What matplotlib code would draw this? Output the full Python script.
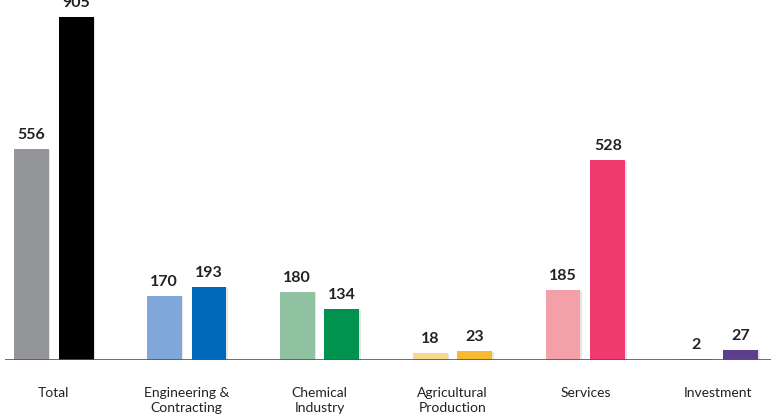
import numpy as np
import matplotlib.pyplot as plt
import matplotlib.patheffects as pe

# Sector values, earlier period vs later period
categories = ["Total", "Engineering &\nContracting", "Chemical\nIndustry",
              "Agricultural\nProduction", "Services", "Investment"]
earlier = [556, 170, 180, 18, 185, 2]
later = [905, 193, 134, 23, 528, 27]

light_colors = ["#939598", "#7fa7d9", "#90c1a0", "#f8d88f", "#f4a0a8", "#a59bc5"]
dark_colors = ["#000000", "#0068b8", "#00934f", "#f6ba35", "#ee3a6d", "#5b3f8e"]

plt.rcParams['font.family'] = ['Lato', 'DejaVu Sans']

fig = plt.figure(figsize=(7.71, 4.17), dpi=100)
ax = fig.add_axes([5 / 771, 57 / 417, 766 / 771, 360 / 417])

x = np.arange(len(categories))
width = 0.263
offset = 0.169

shadow = [pe.SimplePatchShadow(offset=(1, -0.5), shadow_rgbFace="#000000", alpha=0.10), pe.Normal()]

b1 = ax.bar(x - offset, earlier, width, color=light_colors, zorder=2)
b2 = ax.bar(x + offset, later, width, color=dark_colors, zorder=2)
for bars in (b1, b2):
    for rect in bars:
        rect.set_path_effects(shadow)

for xs, vals in ((x - offset, earlier), (x + offset, later)):
    for xi, v in zip(xs, vals):
        ax.annotate(str(v), (xi, v), xytext=(0, 5), textcoords="offset points",
                    ha="center", va="bottom", fontsize=11.5, fontweight="bold",
                    color="#222222", clip_on=False)

ax.set_xlim(-0.365, 5.395)
ax.set_ylim(0, 949.8)
ax.axhline(0, color="#555555", lw=1.2, zorder=3)

for xi, label in zip(x, categories):
    ax.text(xi, -70, label, ha="center", va="top", fontsize=10,
            color="#222222", linespacing=1.3, clip_on=False)

ax.axis("off")

fig.savefig("out.png", dpi=100)
